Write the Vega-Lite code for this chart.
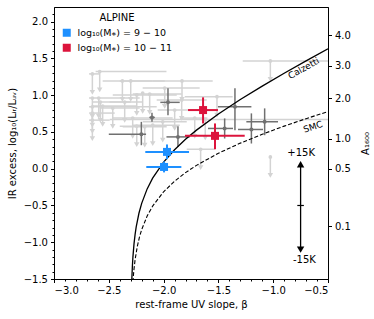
{
  "$schema": "https://vega.github.io/schema/vega-lite/v6.json",
  "width": 274,
  "height": 272,
  "autosize": "none",
  "padding": {"left": 54, "top": 7, "right": 46, "bottom": 40},
  "background": "white",
  "config": {
    "font": "DejaVu Sans",
    "view": {"stroke": "black", "strokeWidth": 1},
    "axis": {"grid": false, "domainColor": "black", "tickColor": "black", "labelColor": "black", "titleColor": "black", "labelFontSize": 10, "titleFontSize": 10, "titleFontWeight": "normal", "tickSize": 3.5, "labelPadding": 3, "labelFont": "DejaVu Sans", "titleFont": "DejaVu Sans"},
    "legend": {"padding": 0, "titleFontSize": 10, "titleFontWeight": "normal", "labelFontSize": 9.5, "titleColor": "black", "labelColor": "black", "titleFont": "DejaVu Sans", "labelFont": "DejaVu Sans"}
  },
  "datasets": {
    "lg": [
      {"b": -2.650, "i": 1.290, "blo": -2.68, "bhi": -2.58, "iend": 1.040},
      {"b": -2.583, "i": 1.321, "blo": -2.62, "bhi": -1.974, "iend": 1.071},
      {"b": -2.376, "i": 1.194, "blo": -2.556, "bhi": -1.990, "iend": 0.944},
      {"b": -2.300, "i": 1.194, "blo": -2.40, "bhi": -2.10, "iend": 0.944},
      {"b": -1.832, "i": 1.194, "blo": -2.099, "bhi": -1.552, "iend": 0.944},
      {"b": -1.513, "i": 0.980, "blo": -1.807, "bhi": -1.370, "iend": 0.730},
      {"b": -2.650, "i": 0.962, "blo": -2.68, "bhi": -2.218, "iend": 0.712},
      {"b": -2.592, "i": 0.962, "blo": -2.60, "bhi": -2.58, "iend": 0.712},
      {"b": -2.650, "i": 0.843, "blo": -2.68, "bhi": -2.063, "iend": 0.593},
      {"b": -2.650, "i": 0.757, "blo": -2.68, "bhi": -2.446, "iend": 0.507},
      {"b": -2.464, "i": 0.825, "blo": -2.583, "bhi": -2.218, "iend": 0.575},
      {"b": -2.355, "i": 0.907, "blo": -2.492, "bhi": -2.191, "iend": 0.657},
      {"b": -2.245, "i": 1.003, "blo": -2.464, "bhi": -1.880, "iend": 0.753},
      {"b": -2.191, "i": 1.030, "blo": -2.20, "bhi": -2.18, "iend": 0.780},
      {"b": -2.127, "i": 1.016, "blo": -2.282, "bhi": -1.835, "iend": 0.766},
      {"b": -2.282, "i": 0.689, "blo": -2.464, "bhi": -1.917, "iend": 0.439},
      {"b": -2.172, "i": 0.570, "blo": -2.373, "bhi": -1.972, "iend": 0.320},
      {"b": -2.099, "i": 0.593, "blo": -2.282, "bhi": -1.853, "iend": 0.343},
      {"b": -2.008, "i": 0.638, "blo": -2.191, "bhi": -1.789, "iend": 0.388},
      {"b": -1.835, "i": 0.934, "blo": -2.063, "bhi": -1.607, "iend": 0.684},
      {"b": -1.899, "i": 0.798, "blo": -2.054, "bhi": -1.671, "iend": 0.548},
      {"b": -1.716, "i": 0.689, "blo": -1.85, "bhi": -1.60, "iend": 0.439},
      {"b": -1.620, "i": 0.671, "blo": -2.492, "bhi": -0.3, "iend": 0.421},
      {"b": -1.662, "i": 0.265, "blo": -1.789, "bhi": -1.534, "iend": 0.015},
      {"b": -1.026, "i": 1.467, "blo": -1.278, "bhi": -0.3, "iend": 1.217},
      {"b": -1.026, "i": 0.160, "blo": -1.03, "bhi": -1.02, "iend": -0.090},
      {"b": -2.556, "i": 0.852, "blo": -2.65, "bhi": -2.245, "iend": 0.602},
      {"b": -1.990, "i": 1.098, "blo": -2.191, "bhi": -1.671, "iend": 0.848},
      {"b": -2.245, "i": 0.579, "blo": -2.40, "bhi": -2.10, "iend": 0.329},
      {"b": -2.577, "i": 0.907, "blo": -2.65, "bhi": -2.30, "iend": 0.657},
      {"b": -2.650, "i": 0.661, "blo": -2.68, "bhi": -2.492, "iend": 0.411}
    ],
    "dg": [
      {"b": -1.960, "i": 0.903, "blo": -2.030, "bhi": -1.853, "ilo": 0.729, "ihi": 1.094},
      {"b": -2.106, "i": 0.698, "blo": -2.13, "bhi": -2.08, "ilo": 0.64, "ihi": 0.76},
      {"b": -2.203, "i": 0.470, "blo": -2.50, "bhi": -2.16, "ilo": 0.320, "ihi": 0.638},
      {"b": -1.869, "i": 0.433, "blo": -1.974, "bhi": -1.762, "ilo": 0.296, "ihi": 0.579},
      {"b": -1.349, "i": 0.843, "blo": -1.504, "bhi": -1.199, "ilo": 0.525, "ihi": 1.094},
      {"b": -1.443, "i": 0.548, "blo": -1.595, "bhi": -1.367, "ilo": 0.411, "ihi": 0.684},
      {"b": -1.199, "i": 0.534, "blo": -1.321, "bhi": -1.093, "ilo": 0.343, "ihi": 0.753},
      {"b": -1.078, "i": 0.638, "blo": -1.245, "bhi": -0.956, "ilo": 0.456, "ihi": 0.821}
    ],
    "col": [
      {"b": -1.969, "i": 0.229, "blo": -2.167, "bhi": -1.768, "ilo": 0.13, "ihi": 0.33, "mass": "log₁₀(M⁎) = 9 − 10"},
      {"b": -1.996, "i": 0.024, "blo": -2.158, "bhi": -1.838, "ilo": -0.05, "ihi": 0.10, "mass": "log₁₀(M⁎) = 9 − 10"},
      {"b": -1.640, "i": 0.798, "blo": -1.777, "bhi": -1.504, "ilo": 0.616, "ihi": 0.971, "mass": "log₁₀(M⁎) = 10 − 11"},
      {"b": -1.531, "i": 0.447, "blo": -1.805, "bhi": -1.260, "ilo": 0.265, "ihi": 0.616, "mass": "log₁₀(M⁎) = 10 − 11"}
    ],
    "calz": [
      {"b": -2.29, "irx": -1.5069},
      {"b": -2.285, "irx": -1.3288},
      {"b": -2.28, "irx": -1.2019},
      {"b": -2.27, "irx": -1.0218},
      {"b": -2.26, "irx": -0.8929},
      {"b": -2.25, "irx": -0.7920},
      {"b": -2.225, "irx": -0.6059},
      {"b": -2.2, "irx": -0.4708},
      {"b": -2.15, "irx": -0.2743},
      {"b": -2.1, "irx": -0.1286},
      {"b": -2.0, "irx": 0.0899},
      {"b": -1.9, "irx": 0.2584},
      {"b": -1.8, "irx": 0.3999},
      {"b": -1.7, "irx": 0.5250},
      {"b": -1.5, "irx": 0.7450},
      {"b": -1.3, "irx": 0.9412},
      {"b": -1.1, "irx": 1.1238},
      {"b": -0.9, "irx": 1.2980},
      {"b": -0.7, "irx": 1.4667},
      {"b": -0.5, "irx": 1.6319}
    ],
    "smc": [
      {"b": -2.28, "irx": -1.5416},
      {"b": -2.275, "irx": -1.4437},
      {"b": -2.27, "irx": -1.3636},
      {"b": -2.26, "irx": -1.2369},
      {"b": -2.24, "irx": -1.0571},
      {"b": -2.22, "irx": -0.9285},
      {"b": -2.2, "irx": -0.8279},
      {"b": -2.15, "irx": -0.6425},
      {"b": -2.1, "irx": -0.5083},
      {"b": -2.0, "irx": -0.3133},
      {"b": -1.9, "irx": -0.1694},
      {"b": -1.8, "irx": -0.0531},
      {"b": -1.7, "irx": 0.0457},
      {"b": -1.5, "irx": 0.2106},
      {"b": -1.3, "irx": 0.3484},
      {"b": -1.1, "irx": 0.4695},
      {"b": -0.9, "irx": 0.5793},
      {"b": -0.7, "irx": 0.6812},
      {"b": -0.5, "irx": 0.7771}
    ]
  },
  "resolve": {"axis": {"x": "independent", "y": "independent"}},
  "layer": [
    {
      "data": {"name": "lg"},
      "mark": {"type": "rule", "color": "#d3d3d3", "strokeWidth": 1.5, "clip": true},
      "encoding": {
        "x": {"field": "blo", "type": "quantitative", "scale": {"domain": [-3, -0.5], "nice": false, "zero": false},
              "axis": {"orient": "bottom", "values": [-2.9,-2.8,-2.7,-2.6,-2.4,-2.3,-2.2,-2.1,-1.9,-1.8,-1.7,-1.6,-1.4,-1.3,-1.2,-1.1,-0.9,-0.8,-0.7,-0.6], "labels": false, "tickSize": 2, "domain": false, "title": null}},
        "x2": {"field": "bhi"},
        "y": {"field": "i", "type": "quantitative", "scale": {"domain": [-1.5, 2.2], "nice": false, "zero": false}, "axis": null}
      }
    },
    {
      "data": {"name": "lg"},
      "mark": {"type": "rule", "color": "#d3d3d3", "strokeWidth": 1.5, "clip": true},
      "encoding": {
        "x": {"field": "b", "type": "quantitative", "scale": {"domain": [-3, -0.5], "nice": false, "zero": false}, "axis": null},
        "y": {"field": "i", "type": "quantitative", "scale": {"domain": [-1.5, 2.2], "nice": false, "zero": false},
              "axis": {"orient": "left", "values": [-1.4,-1.3,-1.2,-1.1,-0.9,-0.8,-0.7,-0.6,-0.4,-0.3,-0.2,-0.1,0.1,0.2,0.3,0.4,0.6,0.7,0.8,0.9,1.1,1.2,1.3,1.4,1.6,1.7,1.8,1.9,2.1], "labels": false, "tickSize": 2, "domain": false, "title": null}},
        "y2": {"field": "iend"}
      }
    },
    {
      "data": {"name": "lg"},
      "mark": {"type": "point", "shape": "triangle-down", "filled": true, "color": "#d3d3d3", "size": 30, "opacity": 1},
      "encoding": {
        "x": {"field": "b", "type": "quantitative", "scale": {"domain": [-3, -0.5], "nice": false, "zero": false}, "axis": null},
        "y": {"field": "iend", "type": "quantitative", "scale": {"domain": [-1.5, 2.2], "nice": false, "zero": false}, "axis": null}
      }
    },
    {
      "data": {"name": "lg"},
      "mark": {"type": "point", "shape": "circle", "filled": true, "color": "#d3d3d3", "size": 14, "opacity": 1},
      "encoding": {
        "x": {"field": "b", "type": "quantitative", "scale": {"domain": [-3, -0.5], "nice": false, "zero": false}, "axis": null},
        "y": {"field": "i", "type": "quantitative", "scale": {"domain": [-1.5, 2.2], "nice": false, "zero": false}, "axis": null}
      }
    },
    {
      "data": {"name": "dg"},
      "mark": {"type": "rule", "color": "#707070", "strokeWidth": 1.5, "clip": true},
      "encoding": {
        "x": {"field": "blo", "type": "quantitative", "scale": {"domain": [-3, -0.5], "nice": false, "zero": false}, "axis": null},
        "x2": {"field": "bhi"},
        "y": {"field": "i", "type": "quantitative", "scale": {"domain": [-1.5, 2.2], "nice": false, "zero": false}, "axis": null}
      }
    },
    {
      "data": {"name": "dg"},
      "mark": {"type": "rule", "color": "#707070", "strokeWidth": 1.5, "clip": true},
      "encoding": {
        "x": {"field": "b", "type": "quantitative", "scale": {"domain": [-3, -0.5], "nice": false, "zero": false}, "axis": null},
        "y": {"field": "ilo", "type": "quantitative", "scale": {"domain": [-1.5, 2.2], "nice": false, "zero": false}, "axis": null},
        "y2": {"field": "ihi"}
      }
    },
    {
      "data": {"name": "dg"},
      "mark": {"type": "point", "shape": "circle", "filled": true, "color": "#707070", "size": 16, "opacity": 1},
      "encoding": {
        "x": {"field": "b", "type": "quantitative", "scale": {"domain": [-3, -0.5], "nice": false, "zero": false}, "axis": null},
        "y": {"field": "i", "type": "quantitative", "scale": {"domain": [-1.5, 2.2], "nice": false, "zero": false}, "axis": null}
      }
    },
    {
      "data": {"name": "calz"},
      "mark": {"type": "line", "color": "black", "strokeWidth": 1.3, "clip": true},
      "encoding": {
        "x": {"field": "b", "type": "quantitative", "scale": {"domain": [-3, -0.5], "nice": false, "zero": false},
              "axis": {"orient": "bottom", "values": [-3, -2.5, -2, -1.5, -1, -0.5], "format": ".1f", "title": "rest-frame UV slope, β", "titlePadding": 4}},
        "y": {"field": "irx", "type": "quantitative", "scale": {"domain": [-1.5, 2.2], "nice": false, "zero": false},
              "axis": {"orient": "left", "values": [-1.5, -1, -0.5, 0, 0.5, 1, 1.5, 2], "format": ".1f", "title": "IR excess, log₁₀(Lᵢᵣ/Lᵤᵥ)", "titlePadding": 6}},
        "order": {"field": "b", "type": "quantitative"}
      }
    },
    {
      "data": {"name": "smc"},
      "mark": {"type": "line", "color": "black", "strokeWidth": 1.1, "strokeDash": [4, 2], "clip": true},
      "encoding": {
        "x": {"field": "b", "type": "quantitative", "scale": {"domain": [-3, -0.5], "nice": false, "zero": false}, "axis": null},
        "y": {"field": "irx", "type": "quantitative", "scale": {"domain": [-1.5, 2.2], "nice": false, "zero": false},
              "axis": {"orient": "right", "values": [-0.785, -0.0025, 0.410, 0.9555, 1.402, 1.819],
                       "labelExpr": "datum.value < -0.5 ? '0.1' : datum.value < 0.2 ? '0.5' : datum.value < 0.7 ? '1.0' : datum.value < 1.2 ? '2.0' : datum.value < 1.6 ? '3.0' : '4.0'",
                       "title": "A₁₆₀₀", "titleAngle": 270, "titlePadding": 20}},
        "order": {"field": "b", "type": "quantitative"}
      }
    },
    {
      "data": {"name": "col"},
      "mark": {"type": "rule", "strokeWidth": 2, "clip": true},
      "encoding": {
        "x": {"field": "blo", "type": "quantitative", "scale": {"domain": [-3, -0.5], "nice": false, "zero": false}, "axis": null},
        "x2": {"field": "bhi"},
        "y": {"field": "i", "type": "quantitative", "scale": {"domain": [-1.5, 2.2], "nice": false, "zero": false}, "axis": null},
        "color": {"field": "mass", "type": "nominal", "scale": {"domain": ["log₁₀(M⁎) = 9 − 10", "log₁₀(M⁎) = 10 − 11"], "range": ["#1e90ff", "#dc143c"]},
                  "legend": {"title": "ALPINE", "orient": "none", "legendX": 8, "legendY": 6, "symbolType": "square", "symbolSize": 64, "symbolStrokeWidth": 0, "titleAnchor": "middle", "titlePadding": 5, "rowPadding": 4, "labelOffset": 6}}
      }
    },
    {
      "data": {"name": "col"},
      "mark": {"type": "rule", "strokeWidth": 2, "clip": true},
      "encoding": {
        "x": {"field": "b", "type": "quantitative", "scale": {"domain": [-3, -0.5], "nice": false, "zero": false}, "axis": null},
        "y": {"field": "ilo", "type": "quantitative", "scale": {"domain": [-1.5, 2.2], "nice": false, "zero": false}, "axis": null},
        "y2": {"field": "ihi"},
        "color": {"field": "mass", "type": "nominal", "scale": {"domain": ["log₁₀(M⁎) = 9 − 10", "log₁₀(M⁎) = 10 − 11"], "range": ["#1e90ff", "#dc143c"]},
                  "legend": {"title": "ALPINE", "orient": "none", "legendX": 8, "legendY": 6, "symbolType": "square", "symbolSize": 64, "symbolStrokeWidth": 0, "titleAnchor": "middle", "titlePadding": 5, "rowPadding": 4, "labelOffset": 6}}
      }
    },
    {
      "data": {"name": "col"},
      "mark": {"type": "point", "shape": "square", "filled": true, "size": 64, "opacity": 1},
      "encoding": {
        "x": {"field": "b", "type": "quantitative", "scale": {"domain": [-3, -0.5], "nice": false, "zero": false}, "axis": null},
        "y": {"field": "i", "type": "quantitative", "scale": {"domain": [-1.5, 2.2], "nice": false, "zero": false}, "axis": null},
        "color": {"field": "mass", "type": "nominal", "scale": {"domain": ["log₁₀(M⁎) = 9 − 10", "log₁₀(M⁎) = 10 − 11"], "range": ["#1e90ff", "#dc143c"]},
                  "legend": {"title": "ALPINE", "orient": "none", "legendX": 8, "legendY": 6, "symbolType": "square", "symbolSize": 64, "symbolStrokeWidth": 0, "titleAnchor": "middle", "titlePadding": 5, "rowPadding": 4, "labelOffset": 6}}
      }
    },
    {
      "data": {"values": [{"b": -0.75, "i1": 0.06, "i2": -1.10}]},
      "mark": {"type": "rule", "color": "black", "strokeWidth": 1.3},
      "encoding": {
        "x": {"field": "b", "type": "quantitative", "scale": {"domain": [-3, -0.5], "nice": false, "zero": false}, "axis": null},
        "y": {"field": "i1", "type": "quantitative", "scale": {"domain": [-1.5, 2.2], "nice": false, "zero": false}, "axis": null},
        "y2": {"field": "i2"}
      }
    },
    {
      "data": {"values": [{"b": -0.75, "i": 0.06}]},
      "mark": {"type": "point", "shape": "triangle-up", "filled": true, "color": "black", "size": 55, "opacity": 1},
      "encoding": {
        "x": {"field": "b", "type": "quantitative", "scale": {"domain": [-3, -0.5], "nice": false, "zero": false}, "axis": null},
        "y": {"field": "i", "type": "quantitative", "scale": {"domain": [-1.5, 2.2], "nice": false, "zero": false}, "axis": null}
      }
    },
    {
      "data": {"values": [{"b": -0.75, "i": -1.10}]},
      "mark": {"type": "point", "shape": "triangle-down", "filled": true, "color": "black", "size": 55, "opacity": 1},
      "encoding": {
        "x": {"field": "b", "type": "quantitative", "scale": {"domain": [-3, -0.5], "nice": false, "zero": false}, "axis": null},
        "y": {"field": "i", "type": "quantitative", "scale": {"domain": [-1.5, 2.2], "nice": false, "zero": false}, "axis": null}
      }
    },
    {
      "data": {"values": [{"b1": -0.78, "b2": -0.72, "i": -0.5}]},
      "mark": {"type": "rule", "color": "black", "strokeWidth": 1.2},
      "encoding": {
        "x": {"field": "b1", "type": "quantitative", "scale": {"domain": [-3, -0.5], "nice": false, "zero": false}, "axis": null},
        "x2": {"field": "b2"},
        "y": {"field": "i", "type": "quantitative", "scale": {"domain": [-1.5, 2.2], "nice": false, "zero": false}, "axis": null}
      }
    },
    {
      "data": {"values": [{"b": -0.745, "i": 0.215, "t": "+15K"}, {"b": -0.715, "i": -1.24, "t": "-15K"}]},
      "mark": {"type": "text", "fontSize": 10, "color": "black", "align": "center", "baseline": "middle"},
      "encoding": {
        "x": {"field": "b", "type": "quantitative", "scale": {"domain": [-3, -0.5], "nice": false, "zero": false}, "axis": null},
        "y": {"field": "i", "type": "quantitative", "scale": {"domain": [-1.5, 2.2], "nice": false, "zero": false}, "axis": null},
        "text": {"field": "t"}
      }
    },
    {
      "data": {"values": [{"b": -0.722, "i": 1.367, "t": "Calzetti"}]},
      "mark": {"type": "text", "fontSize": 9, "color": "black", "align": "center", "baseline": "middle", "angle": -29},
      "encoding": {
        "x": {"field": "b", "type": "quantitative", "scale": {"domain": [-3, -0.5], "nice": false, "zero": false}, "axis": null},
        "y": {"field": "i", "type": "quantitative", "scale": {"domain": [-1.5, 2.2], "nice": false, "zero": false}, "axis": null},
        "text": {"field": "t"}
      }
    },
    {
      "data": {"values": [{"b": -0.637, "i": 0.57, "t": "SMC"}]},
      "mark": {"type": "text", "fontSize": 9, "color": "black", "align": "center", "baseline": "middle", "angle": -18},
      "encoding": {
        "x": {"field": "b", "type": "quantitative", "scale": {"domain": [-3, -0.5], "nice": false, "zero": false}, "axis": null},
        "y": {"field": "i", "type": "quantitative", "scale": {"domain": [-1.5, 2.2], "nice": false, "zero": false}, "axis": null},
        "text": {"field": "t"}
      }
    }
  ]
}
